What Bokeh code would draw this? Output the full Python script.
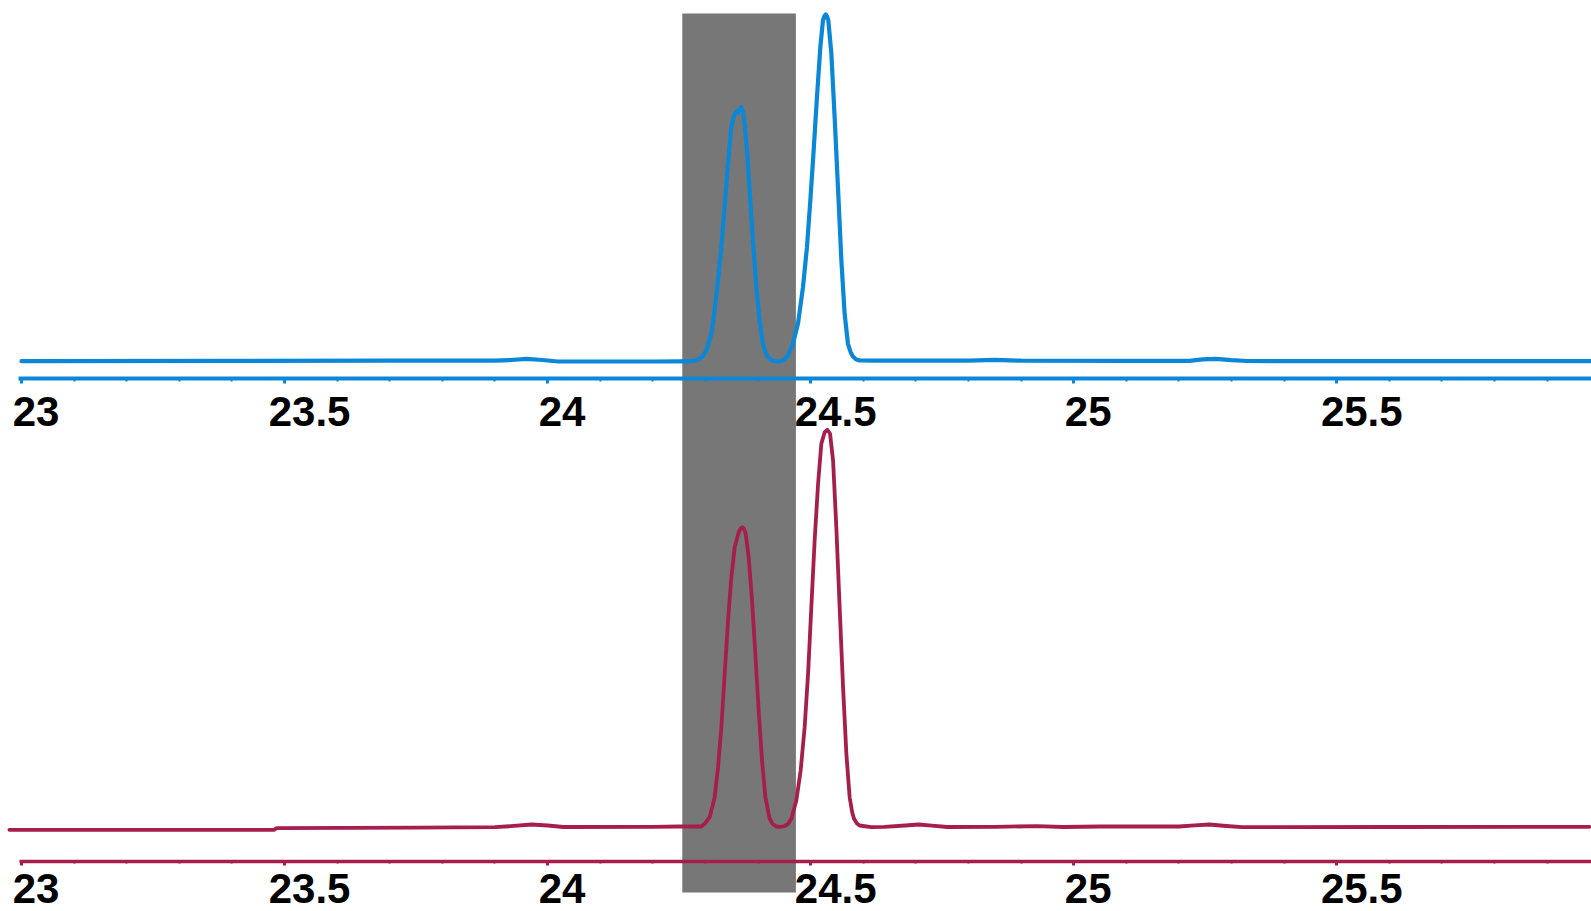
from bokeh.plotting import figure
from bokeh.models import Range1d, LinearAxis, SingleIntervalTicker, ColumnDataSource
from bokeh.core.properties import value
from bokeh.embed import file_html
from bokeh.resources import INLINE

# ---------------- data ----------------
# upper chromatogram (blue): retention time [min], signal [rel. units]
top_time = [23.000, 23.400, 23.700, 23.900, 23.930, 23.960, 23.990, 24.020, 24.200, 24.250,
            24.2762, 24.2830, 24.2890, 24.2955, 24.3017, 24.3112, 24.3175, 24.3238, 24.3302,
            24.3365, 24.3428, 24.3492, 24.3555, 24.3600, 24.3618, 24.3650, 24.3683, 24.3715,
            24.3745, 24.3789, 24.3840, 24.3903, 24.3968, 24.4030, 24.4093, 24.4140, 24.4188,
            24.4250, 24.4316, 24.4380, 24.4443, 24.4505, 24.4568, 24.4663, 24.4759, 24.4854,
            24.4930, 24.4994, 24.5057, 24.5120, 24.5184, 24.5234, 24.5260, 24.5285, 24.5310,
            24.5336, 24.5394, 24.5456, 24.5519, 24.5584, 24.5646, 24.5709, 24.5760, 24.5804,
            24.5860, 24.5932, 24.620, 24.800, 24.850, 24.900, 25.100, 25.220, 25.245, 25.270,
            25.300, 25.330, 25.600, 25.985]
top_signal = [0.0, 0.3, 0.5, 0.5, 1.2, 2.3, 1.2, -0.3, -0.3, -0.2,
              0.0, 0.8, 2.4, 5.5, 10.7, 27.4, 50.7, 80.7, 114.0,
              154.0, 197.4, 234.0, 247.4, 250.0, 248.5, 252.0, 254.0, 249.0,
              237.4, 210.7, 170.7, 120.7, 74.0, 40.7, 17.4, 9.0, 4.0,
              1.2, 0.0, -0.3, 0.0, 1.8, 5.7, 17.4, 37.4, 74.0,
              114.0, 160.7, 210.7, 264.0, 314.0, 340.7, 345.0, 346.7, 345.0,
              340.7, 307.4, 244.0, 174.0, 100.7, 47.4, 17.4, 9.0, 4.7,
              2.0, 0.7, 0.5, 0.5, 1.3, 0.5, 0.3, 0.4, 1.8, 2.4,
              1.0, 0.2, 0.0, 0.0]

# lower chromatogram (crimson): retention time [min], signal [rel. units]
bottom_time = [22.977, 23.480, 23.485, 23.750, 23.900, 23.930, 23.970, 24.000, 24.030, 24.200,
               24.250, 24.2923, 24.2986, 24.3081, 24.3176, 24.3240, 24.3303, 24.3366, 24.3430,
               24.3493, 24.3556, 24.3632, 24.3670, 24.3702, 24.3735, 24.3765, 24.3822, 24.3886,
               24.3949, 24.4012, 24.4076, 24.4139, 24.4221, 24.4280, 24.4348, 24.4430, 24.4506,
               24.4570, 24.4633, 24.4728, 24.4810, 24.4886, 24.4951, 24.5013, 24.5076, 24.5141,
               24.5203, 24.5266, 24.5317, 24.5369, 24.5426, 24.5488, 24.5551, 24.5616, 24.5679,
               24.5741, 24.5790, 24.5825, 24.5880, 24.5931, 24.6153,
               24.640, 24.680, 24.705, 24.730, 24.760, 24.850, 24.930, 24.980, 25.050, 25.200,
               25.230, 25.258, 25.290, 25.320, 25.600, 25.980]
bottom_signal = [-3.3, -3.3, -1.7, -1.2, -0.7, 0.3, 2.0, 1.0, -0.5, -0.3,
                 0.0, 0.0, 2.7, 9.3, 29.3, 59.3, 99.3, 152.7, 206.0,
                 249.3, 279.3, 294.3, 298.0, 299.3, 297.5, 292.7, 269.3, 226.0,
                 172.7, 116.0, 66.0, 29.3, 7.7, 2.5, 0.0, -0.3, 0.5,
                 2.5, 7.7, 26.0, 56.0, 99.3, 152.7, 219.3, 286.0, 342.7,
                 382.7, 394.3, 396.7, 392.7, 366.0, 299.3, 219.3, 139.3, 72.7,
                 29.3, 14.0, 7.7, 3.0, 1.0, -0.7,
                 -0.3, 1.0, 2.0, 0.8, -0.5, -0.3, 0.3, -0.5, 0.0, 0.0,
                 1.2, 2.0, 0.5, -0.7, -0.5, -0.3]

tick_values = [23, 23.5, 24, 24.5, 25, 25.5]
tick_labels = ["23", "23.5", "24", "24.5", "25", "25.5"]

highlight_window = [24.256, 24.472]  # shaded retention-time window [min]

# ---------------- layout / style ----------------
BLUE = "#0B87D8"
CRIMSON = "#A61E4D"
GREY = "#777777"

W, H = 1591, 911
PX_PER_MIN = 526.1
X0 = 23 - 21 / PX_PER_MIN
TOP_BASE = 550.3     # vertical placement of upper trace
BOT_BASE = 85.0      # vertical placement of lower trace
TOP_AXIS_Y = 533.3
BOT_AXIS_Y = 50.5

p = figure(width=W, height=H, output_backend="svg", toolbar_location=None,
           x_axis_type=None, y_axis_type=None,
           x_range=Range1d(X0, X0 + W / PX_PER_MIN), y_range=Range1d(0, H),
           min_border=0, outline_line_color=None)
p.background_fill_color = "white"
p.border_fill_color = "white"
p.xgrid.visible = False
p.ygrid.visible = False

# shaded window
p.quad(left=[highlight_window[0]], right=[highlight_window[1]], bottom=[19], top=[898],
       fill_color=GREY, line_color=None)

# traces
p.line(top_time, [TOP_BASE + s for s in top_signal],
       line_color=BLUE, line_width=4.2, line_join="round", line_cap="round")
p.line(bottom_time, [BOT_BASE + s for s in bottom_signal],
       line_color=CRIMSON, line_width=3.8, line_join="round", line_cap="round")


def add_axis(y_loc, color, lw, maj_out, min_out, start):
    ax = LinearAxis(fixed_location=y_loc,
                    ticker=SingleIntervalTicker(interval=0.5, num_minor_ticks=5),
                    bounds=(start, 26.1))
    ax.axis_line_color = color
    ax.axis_line_width = lw
    ax.major_tick_line_color = color
    ax.major_tick_line_width = 3
    ax.major_tick_in = 0
    ax.major_tick_out = maj_out
    ax.minor_tick_line_color = color
    ax.minor_tick_line_width = 2
    ax.minor_tick_in = 0
    ax.minor_tick_out = min_out
    ax.major_label_text_font_size = "0px"
    ax.major_label_text_color = None
    p.add_layout(ax, "below")


add_axis(TOP_AXIS_Y, BLUE, 4, 5, 3, 22.9943)
add_axis(BOT_AXIS_Y, CRIMSON, 3.5, 4, 2, 22.9962)

# tick labels (offset to the right of their ticks, as in the original)
dx = [14.5 if "." not in s else 25 for s in tick_labels]
for y_lab in (500, 23):
    src = ColumnDataSource(dict(x=tick_values, y=[y_lab] * len(tick_values),
                                t=tick_labels, dx=dx))
    p.text(x="x", y="y", text="t", x_offset="dx", source=src,
           text_align="center", text_baseline="middle",
           text_font=value("Liberation Sans"), text_font_style="bold",
           text_font_size="42px", text_color="black")

open("out.html", "w").write(file_html(p, INLINE))
